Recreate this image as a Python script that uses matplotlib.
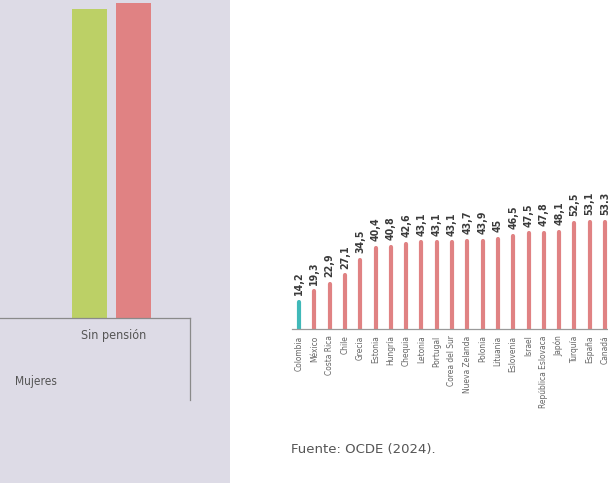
import matplotlib
matplotlib.use("Agg")
import matplotlib.pyplot as plt
from matplotlib.lines import Line2D
from matplotlib.patches import Rectangle

# ---------------- data ----------------
countries = ["Colombia", "México", "Costa Rica", "Chile", "Grecia", "Estonia", "Hungría",
             "Chequia", "Letonia", "Portugal", "Corea del Sur", "Nueva Zelanda", "Polonia",
             "Lituania", "Eslovenia", "Israel", "República Eslovaca", "Japón", "Turquía",
             "España", "Canadá"]
values = [14.2, 19.3, 22.9, 27.1, 34.5, 40.4, 40.8, 42.6, 43.1, 43.1, 43.1, 43.7, 43.9,
          45, 46.5, 47.5, 47.8, 48.1, 52.5, 53.1, 53.3]
value_labels = ["14,2", "19,3", "22,9", "27,1", "34,5", "40,4", "40,8", "42,6", "43,1",
                "43,1", "43,1", "43,7", "43,9", "45", "46,5", "47,5", "47,8", "48,1",
                "52,5", "53,1", "53,3"]
highlight = "Colombia"

left_category = ["Sin pensión"]
left_series_a = [61.8]   # green bar (cut off at top in the reference)
left_series_b = [63.0]   # red bar (cut off at top in the reference)
left_row_label = "Mujeres"
source_text = "Fuente: OCDE (2024)."

# ---------------- style ----------------
W, H = 608, 483
RED = "#e08283"
GREEN = "#bcd066"
TEAL = "#40b9b9"
PANEL = "#dddbe6"
FONT = ["DejaVu Sans"]

fig = plt.figure(figsize=(W / 100, H / 100), dpi=100)
fig.patch.set_facecolor("white")

def fx(px):
    return px / W

def fy(py):
    return 1 - py / H

# left lavender panel
fig.add_artist(Rectangle((0, 0), fx(230), 1, transform=fig.transFigure,
                         facecolor=PANEL, edgecolor="none", zorder=0))

# ---------------- left chart ----------------
unit_px = 44.0
center_px = 111.5
axl = fig.add_axes([0, fy(318), fx(230), fy(0) - fy(318)])
axl.set_facecolor("none")
axl.set_xlim(-center_px / unit_px, (230 - center_px) / unit_px)
axl.set_ylim(0, 61.8 * 318 / 309)
bw = 35 / unit_px
pos = list(range(len(left_category)))
axl.bar([p - 0.5 for p in pos], left_series_a, width=bw, color=GREEN, edgecolor="none",
        zorder=2)
axl.bar([p + 0.5 for p in pos], left_series_b, width=bw, color=RED, edgecolor="none",
        zorder=2)
axl.set_xticks([])
axl.set_yticks([])
for s in axl.spines.values():
    s.set_visible(False)

# table lines below left chart
fig.add_artist(Line2D([0, fx(190)], [fy(318), fy(318)], transform=fig.transFigure,
                      color="#8a8a8a", lw=0.9))
fig.add_artist(Line2D([fx(190), fx(190)], [fy(318), fy(400)], transform=fig.transFigure,
                      color="#8a8a8a", lw=0.9))
fig.text(fx(114), fy(336), left_category[0], ha="center", va="center", fontsize=9,
         color="#555555", family=FONT, fontstretch="condensed")
fig.text(fx(15), fy(381), left_row_label, ha="left", va="center", fontsize=8.6,
         color="#555555", family=FONT, fontstretch="condensed")

# ---------------- right chart ----------------
px_per_unit = 2.05
step = 15.3
x0_px = 299
ax_left_px, ax_right_px = 292, 640
axr = fig.add_axes([fx(ax_left_px), fy(329), fx(ax_right_px - ax_left_px),
                    (60 * px_per_unit) / H])
axr.set_facecolor("none")
axr.set_xlim((ax_left_px - x0_px) / step, (ax_right_px - x0_px) / step)
axr.set_ylim(0, 60)
xs = list(range(len(countries)))
cols = [TEAL if c == highlight else RED for c in countries]
axr.vlines(xs, 0, [v - 0.9 for v in values], colors=cols, lw=3.0,
           capstyle="round", zorder=2)
for x, v, lab in zip(xs, values, value_labels):
    axr.text(x, v + 2.4, lab, rotation=90, ha="center", va="bottom", fontsize=7.6,
             fontweight="bold", color="#3a3a3a", family=FONT, fontstretch="condensed",
             clip_on=False)
for x, c in zip(xs, countries):
    axr.text(x, -3.2, c, rotation=90, ha="center", va="top", fontsize=6.0,
             color="#666666", family=FONT, fontstretch="condensed", clip_on=False)
axr.set_xticks([])
axr.set_yticks([])
for k, s in axr.spines.items():
    s.set_visible(k == "bottom")
axr.spines["bottom"].set_color("#9a9a9a")
axr.spines["bottom"].set_linewidth(0.9)

fig.text(fx(291), fy(449), source_text, ha="left", va="center", fontsize=9.5,
         color="#555555", family=FONT)

fig.savefig("out.png", dpi=100)
